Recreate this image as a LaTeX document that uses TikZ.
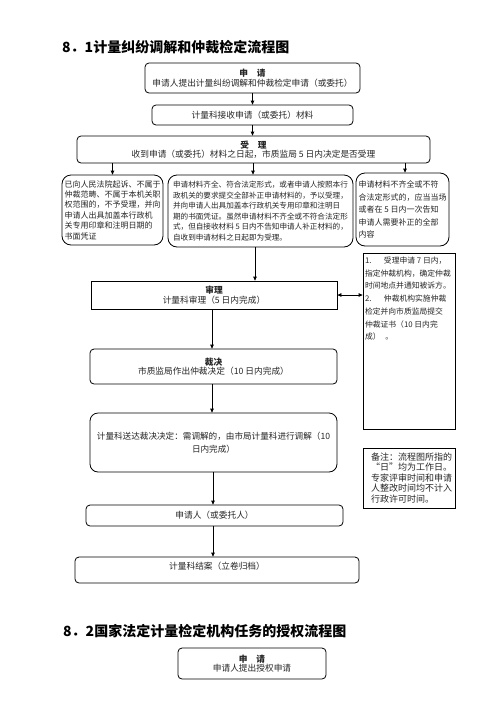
\documentclass[tikz,border=0pt]{standalone}
\usepackage{fontspec}
\setmainfont{Noto Sans CJK SC}
\usetikzlibrary{arrows.meta}
\newcommand\myfs[2]{\fontsize{#1}{#2}\selectfont}
\begin{document}
\begin{tikzpicture}[x=1pt,y=-1pt,
  box/.style={draw=black, line width=0.8pt, rounded corners=4pt, inner sep=1pt, align=center, text=black!85, font=\myfs{8.7}{9.5}},
  bigr/.style={rounded corners=9pt},
  note/.style={draw=black, line width=0.8pt, sharp corners, inner sep=0pt, text=black!85},
  arr/.style={line width=0.8pt, -{Triangle[length=4pt,width=3.6pt]}},
  darr/.style={line width=0.8pt, {Triangle[length=4pt,width=3.6pt]}-{Triangle[length=4pt,width=3.6pt]}},
  ttl/.style={anchor=west, inner sep=0pt, font=\myfs{14}{16}\bfseries}
]
\useasboundingbox (0,0) rectangle (496,702);
\fill[white] (0,0) rectangle (496,702);

\node[ttl] (t1) at (62,47.5) {8．1计量纠纷调解和仲裁检定流程图};

\node[box, minimum width=215pt, minimum height=30pt] (apply) at (252.5,78)
  {\textbf{申\hspace{1em}请}\\申请人提出计量纠纷调解和仲裁检定申请（或委托）};
\node[box, minimum width=201pt, minimum height=20pt] (recv) at (252.5,115)
  {计量科接收申请（或委托）材料};
\node[box, minimum width=353pt, minimum height=27pt] (acc) at (253.5,149.5)
  {\textbf{受\hspace{1em}理}\\收到申请（或委托）材料之日起，市质监局 5 日内决定是否受理};

\node[box, bigr, minimum width=101pt, minimum height=70pt, align=left, font=\myfs{8}{10.4}] (L) at (112.5,210)
  {已向人民法院起诉、不属于\\仲裁范畴、不属于本机关职\\权范围的，不予受理，并向\\申请人出具加盖本行政机\\关专用印章和注明日期的\\书面凭证};
\node[box, bigr, minimum width=185pt, minimum height=72pt, align=left, font=\myfs{7.6}{10.5}] (M) at (260.5,211)
  {申请材料齐全、符合法定形式，或者申请人按照本行\\政机关的要求提交全部补正申请材料的，予以受理，\\并向申请人出具加盖本行政机关专用印章和注明日\\期的书面凭证。虽然申请材料不齐全或不符合法定形\\式，但自接收材料 5 日内不告知申请人补正材料的，\\自收到申请材料之日起即为受理。};
\node[box, bigr, minimum width=93pt, minimum height=73pt, align=left, font=\myfs{8}{12.5}] (R) at (402.5,209.5)
  {申请材料不齐全或不符\\合法定形式的，应当当场\\或者在 5 日内一次告知\\申请人需要补正的全部\\内容};

\node[box, sharp corners, minimum width=246pt, minimum height=28pt] (rev) at (214,295)
  {\textbf{审理}\\计量科审理（5 日内完成）};
\node[note, minimum width=92pt, minimum height=176pt] (N1) at (409,341)
  {\begin{minipage}[t][172pt][t]{88pt}\myfs{7.8}{12.7}\vspace{2pt}%
  1.\hspace{1.6em}受理申请 7 日内，\\指定仲裁机构，确定仲裁\\时间地点并通知被诉方。\\2.\hspace{1.6em}仲裁机构实施仲裁\\检定并向市质监局提交\\仲裁证书（10 日内完\\成）\hspace{0.6em}。\end{minipage}};

\node[box, minimum width=247pt, minimum height=35pt] (dec) at (213.5,366.5)
  {\textbf{裁决}\\市质监局作出仲裁决定（10 日内完成）};
\node[box, rounded corners=8pt, minimum width=247pt, minimum height=59pt, font=\myfs{8.6}{13}] (del) at (213.5,442.5)
  {计量科送达裁决决定：需调解的，由市局计量科进行调解（10\\日内完成）};
\node[box, minimum width=257pt, minimum height=21pt] (app) at (214.5,515.5)
  {申请人（或委托人）};
\node[box, minimum width=284pt, minimum height=26pt, text depth=9pt] (close) at (217,570)
  {计量科结案（立卷归档）};

\node[note, minimum width=92pt, minimum height=60pt] (N2) at (409,478)
  {\begin{minipage}[c]{92pt}\myfs{9}{10.5}\leftskip=8pt\noindent
  备注：流程图所指的\\“日”均为工作日。\\专家评审时间和申请\\人整改时间均不计入\\行政许可时间。\end{minipage}};

\node[ttl] (t2) at (63,631) {8．2国家法定计量检定机构任务的授权流程图};
\node[box, minimum width=148pt, minimum height=31pt] (apply2) at (252,663.5)
  {\textbf{申\hspace{1em}请}\\申请人提出授权申请};

\draw[arr] (apply.south -| recv) -- (recv.north);
\draw[arr] (recv.south) -- (recv.south |- acc.north);
\draw[arr] (acc.south -| L) -- (L.north);
\draw[arr] (acc.south -| 253,0) -- (253,0 |- M.north);
\draw[arr] (acc.south -| 405,0) -- (405,0 |- R.north);
\draw[arr] (M.south -| 255,0) -- (255,0 |- rev.north);
\draw[darr] (rev.east) -- (rev.east -| N1.west);
\draw[arr] (rev.south -| 212,0) -- (212,0 |- dec.north);
\draw[arr] (dec.south -| 212,0) -- (212,0 |- del.north);
\draw[arr] (del.south -| 213,0) -- (213,0 |- app.north);
\draw[arr] (app.south -| 213,0) -- (213,0 |- close.north);
\end{tikzpicture}
\end{document}
